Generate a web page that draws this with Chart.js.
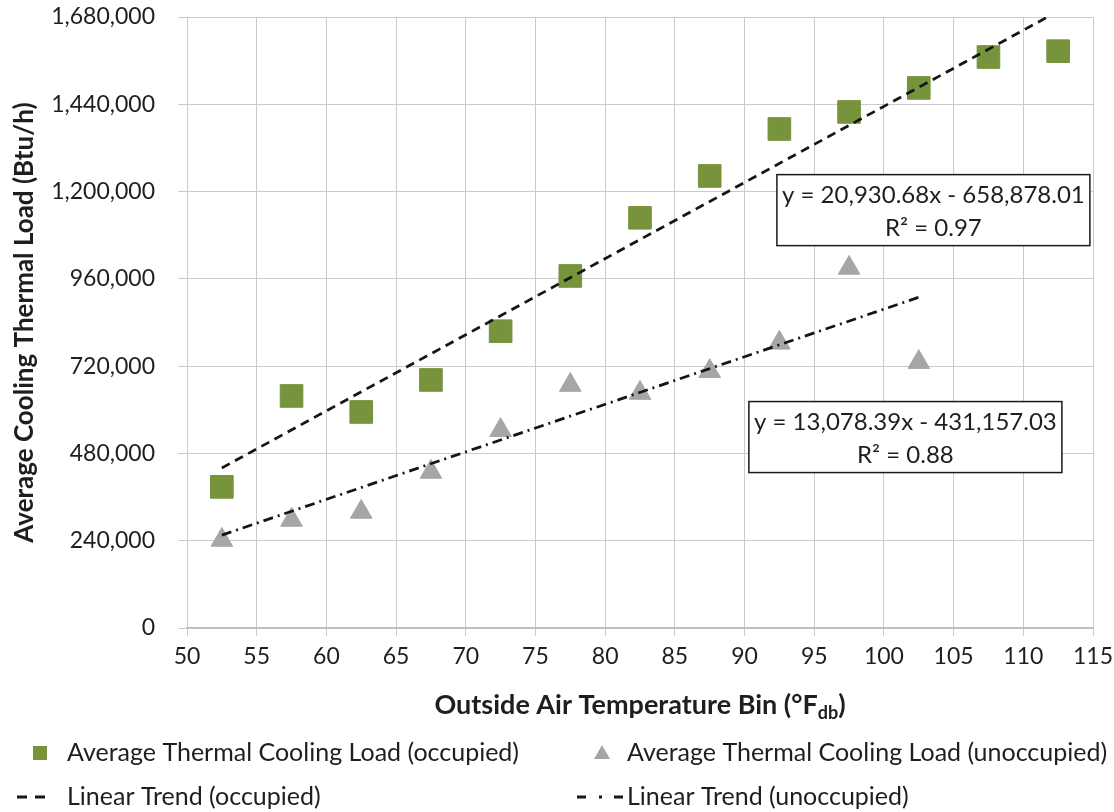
<!DOCTYPE html>
<html>
<head>
<meta charset="utf-8">
<script src="https://cdn.jsdelivr.net/npm/chart.js@4.4.1/dist/chart.umd.min.js"></script>
<style>
  html, body { margin: 0; padding: 0; background: #fff; }
  canvas { display: block; }
</style>
</head>
<body>
<canvas id="coolingChart" width="1114" height="812"></canvas>
<script>
// Temperature bins (°F db) and average cooling loads (Btu/h)
const occupiedBins = [52.5, 57.5, 62.5, 67.5, 72.5, 77.5, 82.5, 87.5, 92.5, 97.5, 102.5, 107.5, 112.5];
const occupiedLoad = [388000, 638000, 594000, 682000, 816000, 968000, 1128000, 1243000, 1372000, 1419000, 1485000, 1570000, 1586000];

const unoccupiedBins = [52.5, 57.5, 62.5, 67.5, 72.5, 77.5, 82.5, 87.5, 92.5, 97.5, 102.5];
const unoccupiedLoad = [242000, 297000, 319000, 429000, 544000, 668000, 646000, 706000, 784000, 990000, 731000];

// Trend line end points
const occupiedTrendX = [52.5, 112.5];
const occupiedTrendY = [440000, 1696000];
const unoccupiedTrendX = [52.5, 102.5];
const unoccupiedTrendY = [255500, 909400];

// Axis ticks
const xTickMin = 50;
const xTickMax = 115;
const xTickStep = 5;
const yTickMin = 0;
const yTickMax = 1680000;
const yTickStep = 240000;

// Equation labels: [x, y] anchor in data units and the text lines
const occupiedEquation = ['y = 20,930.68x - 658,878.01', 'R² = 0.97'];
const occupiedEquationAt = [103.55, 1149000];
const unoccupiedEquation = ['y = 13,078.39x - 431,157.03', 'R² = 0.88'];
const unoccupiedEquationAt = [101.54, 525000];

const fontFamily = 'Lato, "Open Sans", sans-serif';
const textColor = '#1e1e1e';
const gridColor = '#cbcbcb';
const occupiedColor = '#77933c';
const unoccupiedColor = '#a6a6a6';
const trendColor = '#151515';

const toPoints = (xs, ys) => xs.map((x, i) => ({ x, y: ys[i] }));

// Equation boxes drawn on top of the series
const equationBoxPlugin = {
  id: 'equationBoxes',
  afterDatasetsDraw(chart) {
    const { ctx, scales } = chart;
    const drawBox = (lines, at) => {
      const cx = scales.x.getPixelForValue(at[0]);
      const cy = scales.y.getPixelForValue(at[1]);
      const w = 313;
      const h = 71;
      ctx.save();
      ctx.fillStyle = '#ffffff';
      ctx.fillRect(cx - w / 2, cy - h / 2, w, h);
      ctx.strokeStyle = '#1a1a1a';
      ctx.lineWidth = 1.5;
      ctx.strokeRect(cx - w / 2, cy - h / 2, w, h);
      ctx.fillStyle = textColor;
      ctx.font = `24px ${fontFamily}`;
      ctx.textAlign = 'center';
      ctx.textBaseline = 'middle';
      ctx.fillText(lines[0], cx, cy - 15);
      ctx.fillText(lines[1], cx, cy + 18);
      ctx.restore();
    };
    drawBox(occupiedEquation, occupiedEquationAt);
    drawBox(unoccupiedEquation, unoccupiedEquationAt);
  }
};

// X axis title with the "db" subscript, plus the two-column legend
const bottomTextPlugin = {
  id: 'bottomText',
  afterDraw(chart) {
    const { ctx, chartArea } = chart;
    ctx.save();
    ctx.fillStyle = textColor;
    ctx.textBaseline = 'middle';

    // axis title
    const main = 'Outside Air Temperature Bin (°F';
    const sub = 'db';
    const close = ')';
    const bigFont = `bold 27px ${fontFamily}`;
    const smallFont = `bold 18px ${fontFamily}`;
    ctx.font = bigFont;
    const wMain = ctx.measureText(main).width;
    const wClose = ctx.measureText(close).width;
    ctx.font = smallFont;
    const wSub = ctx.measureText(sub).width;
    const total = wMain + wSub + wClose;
    let tx = (chartArea.left + chartArea.right) / 2 - total / 2;
    const ty = chartArea.bottom + 77;
    ctx.textAlign = 'left';
    ctx.font = bigFont;
    ctx.fillText(main, tx, ty);
    tx += wMain;
    ctx.font = smallFont;
    ctx.fillText(sub, tx, ty + 8);
    tx += wSub;
    ctx.font = bigFont;
    ctx.fillText(close, tx, ty);

    // legend
    const row1 = 753;
    const row2 = 797;
    ctx.font = `25px ${fontFamily}`;

    ctx.fillStyle = occupiedColor;
    ctx.fillRect(33, row1 - 7, 14, 14);
    ctx.fillStyle = textColor;
    ctx.fillText('Average Thermal Cooling Load (occupied)', 67, row1);

    ctx.fillStyle = unoccupiedColor;
    ctx.beginPath();
    ctx.moveTo(602, row1 - 8);
    ctx.lineTo(610, row1 + 6);
    ctx.lineTo(594, row1 + 6);
    ctx.closePath();
    ctx.fill();
    ctx.fillStyle = textColor;
    ctx.fillText('Average Thermal Cooling Load (unoccupied)', 627, row1);

    ctx.fillStyle = trendColor;
    ctx.fillRect(17, row2 - 1.5, 10, 3);
    ctx.fillRect(35, row2 - 1.5, 10, 3);
    ctx.fillStyle = textColor;
    ctx.fillText('Linear Trend (occupied)', 67, row2);

    ctx.fillStyle = trendColor;
    ctx.fillRect(577, row2 - 1.5, 9, 3);
    ctx.fillRect(599, row2 - 1.5, 3, 3);
    ctx.fillRect(614, row2 - 1.5, 9, 3);
    ctx.fillStyle = textColor;
    ctx.fillText('Linear Trend (unoccupied)', 627, row2);
    ctx.restore();
  }
};

const canvas = document.getElementById('coolingChart');

new Chart(canvas, {
  type: 'scatter',
  data: {
    datasets: [
      {
        label: 'Linear Trend (occupied)',
        type: 'line',
        data: toPoints(occupiedTrendX, occupiedTrendY),
        borderColor: trendColor,
        borderWidth: 2.75,
        borderDash: [9, 6],
        pointRadius: 0,
        fill: false,
        order: 0
      },
      {
        label: 'Linear Trend (unoccupied)',
        type: 'line',
        data: toPoints(unoccupiedTrendX, unoccupiedTrendY),
        borderColor: trendColor,
        borderWidth: 2.75,
        borderDash: [10, 5, 2, 5],
        pointRadius: 0,
        fill: false,
        order: 1
      },
      {
        label: 'Average Thermal Cooling Load (occupied)',
        data: toPoints(occupiedBins, occupiedLoad),
        pointStyle: 'rect',
        pointRadius: 16,
        pointBackgroundColor: occupiedColor,
        pointBorderColor: occupiedColor,
        pointBorderWidth: 1,
        order: 2
      },
      {
        label: 'Average Thermal Cooling Load (unoccupied)',
        data: toPoints(unoccupiedBins, unoccupiedLoad),
        pointStyle: 'triangle',
        pointRadius: 12.5,
        pointBackgroundColor: unoccupiedColor,
        pointBorderColor: unoccupiedColor,
        pointBorderWidth: 1,
        order: 3
      }
    ]
  },
  options: {
    responsive: false,
    animation: false,
    layout: { padding: { top: 17, right: 21, bottom: 0, left: 0 } },
    plugins: {
      legend: { display: false },
      tooltip: { enabled: false }
    },
    scales: {
      x: {
        type: 'linear',
        min: xTickMin,
        max: xTickMax,
        ticks: {
          stepSize: xTickStep,
          color: textColor,
          padding: 7,
          font: { family: fontFamily, size: 23 }
        },
        grid: { color: gridColor, tickLength: 8 },
        border: { color: '#bdbdbd', width: 1.5 },
        afterFit: (scale) => {
          scale.height = 184;
          scale.paddingLeft = 0;
          scale.paddingRight = 0;
        }
      },
      y: {
        min: yTickMin,
        max: yTickMax,
        ticks: {
          stepSize: yTickStep,
          color: textColor,
          padding: 23,
          font: { family: fontFamily, size: 23 },
          callback: (value) => value.toLocaleString('en-US')
        },
        grid: { color: gridColor, tickLength: 9 },
        border: { display: false },
        title: {
          display: true,
          text: 'Average Cooling Thermal Load (Btu/h)',
          color: textColor,
          font: { family: fontFamily, size: 26, weight: 'bold' },
          padding: { top: 9, bottom: 0 }
        },
        afterFit: (scale) => {
          scale.width = 187;
          scale.paddingTop = 0;
          scale.paddingBottom = 0;
        }
      }
    }
  },
  plugins: [equationBoxPlugin, bottomTextPlugin]
});
</script>
</body>
</html>
